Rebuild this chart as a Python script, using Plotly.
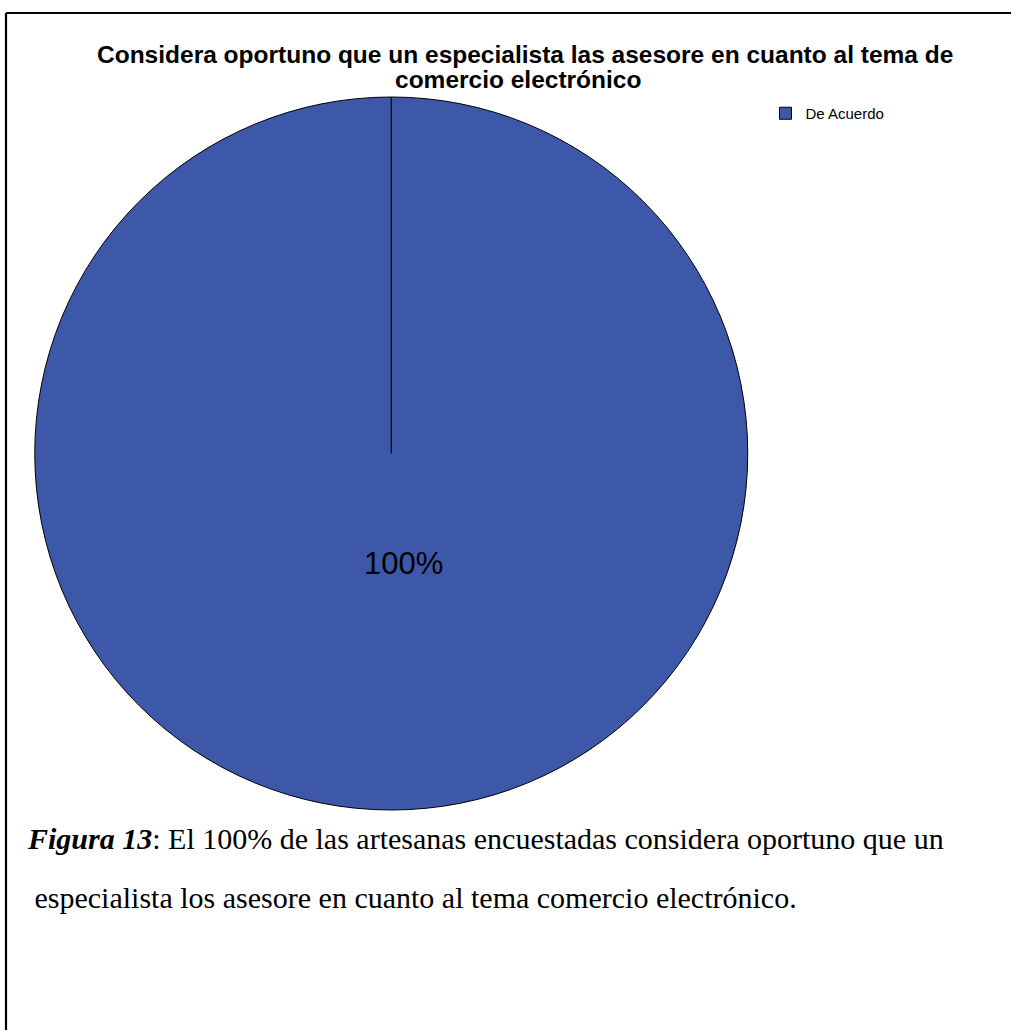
import plotly.graph_objects as go

# Survey answers and counts
categories = ["De Acuerdo"]
counts = [100]

title_lines = [
    "Considera oportuno que un especialista las asesore en cuanto al tema de",
    "comercio electrónico",
]
caption_lines = [
    "<b><i>Figura 13</i></b>: El 100% de las artesanas encuestadas considera oportuno que un",
    " especialista los asesore en cuanto al tema comercio electrónico.",
]

W, H = 1011, 1030
PIE_COLOR = "#3E58A9"

# pie placement in pixels (left, top, right, bottom)
pie_px = (34.5, 97, 748, 810)
dom_x = [pie_px[0] / W, pie_px[2] / W]
dom_y = [1 - pie_px[3] / H, 1 - pie_px[1] / H]

total = sum(counts)
pcts = [c / total * 100 for c in counts]

fig = go.Figure(
    go.Pie(
        labels=categories,
        values=counts,
        sort=False,
        direction="clockwise",
        rotation=0,
        textinfo="none",
        hoverinfo="label+percent",
        marker=dict(colors=[PIE_COLOR], line=dict(color="#000000", width=1)),
        domain=dict(x=dom_x, y=dom_y),
        showlegend=True,
    )
)

cx = (dom_x[0] + dom_x[1]) / 2
cy = (dom_y[0] + dom_y[1]) / 2

shapes = [
    # slice boundary from the centre to 12 o'clock
    dict(type="line", xref="paper", yref="paper", x0=cx, x1=cx, y0=cy, y1=dom_y[1],
         line=dict(color="#000000", width=1.2)),
    # frame around the figure
    dict(type="line", xref="paper", yref="paper", x0=6 / W, x1=1.0, y0=1 - 13 / H, y1=1 - 13 / H,
         line=dict(color="#000000", width=2.2)),
    dict(type="line", xref="paper", yref="paper", x0=6 / W, x1=6 / W, y0=0, y1=1 - 13 / H,
         line=dict(color="#000000", width=2.2)),
]

title_font = dict(family="Liberation Sans, Arial", size=24.5, color="#000000", weight="bold")
caption_font = dict(family="Liberation Serif, Times New Roman", size=30, color="#000000")

annotations = [
    dict(text=title_lines[0], x=525 / W, y=1 - 54 / H, xref="paper", yref="paper",
         xanchor="center", yanchor="middle", showarrow=False, font=title_font),
    dict(text=title_lines[1], x=518 / W, y=1 - 79 / H, xref="paper", yref="paper",
         xanchor="center", yanchor="middle", showarrow=False, font=title_font),
    dict(text=f"{pcts[0]:.0f}%", x=403 / W, y=1 - 563 / H, xref="paper", yref="paper",
         xanchor="center", yanchor="middle", showarrow=False,
         font=dict(family="Liberation Sans, Arial", size=31, color="#000000")),
    dict(text=caption_lines[0], x=25 / W, y=1 - 838 / H, xref="paper", yref="paper",
         xanchor="left", yanchor="middle", showarrow=False, font=caption_font),
    dict(text=caption_lines[1], x=25 / W, y=1 - 897 / H, xref="paper", yref="paper",
         xanchor="left", yanchor="middle", showarrow=False, font=caption_font),
]

fig.update_layout(
    width=W,
    height=H,
    margin=dict(l=0, r=0, t=0, b=0),
    paper_bgcolor="#FFFFFF",
    plot_bgcolor="#FFFFFF",
    shapes=shapes,
    annotations=annotations,
    legend=dict(
        x=765.5 / W, y=1 - 97 / H, xanchor="left", yanchor="top",
        font=dict(family="Liberation Sans, Arial", size=15, color="#000000"),
        bgcolor="rgba(0,0,0,0)", itemwidth=30,
    ),
)

fig.write_html("out.html")
